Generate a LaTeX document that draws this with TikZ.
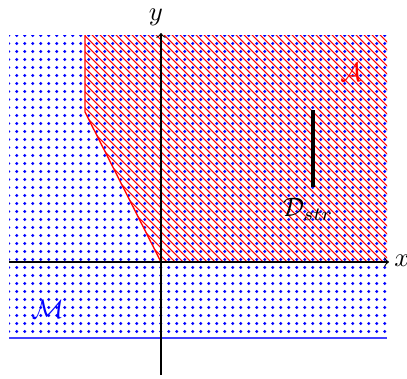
\documentclass[tikz,border=0pt]{standalone}
\begin{document}
\begin{tikzpicture}[x=0.375pt,y=-0.375pt,
  axis/.style={->,black,line width=0.4pt},
  redge/.style={red,line width=0.5pt},
  dotm/.style={fill=blue},
  hatch/.style={red,line width=0.4pt}]
\useasboundingbox (0,0) rectangle (407,378);
% region M (dots)
\begin{scope}
\clip (9,35) rectangle (387,338);
\foreach \i in {0,...,47}{\foreach \j in {0,...,38}{
  \fill[dotm] (8.7+8*\i,35.5+8*\j) circle[radius=1.6];}}
\end{scope}
\draw[blue!75,line width=0.6pt] (9,338) -- (387,338);
% region A (hatch)
\begin{scope}
\clip (85,35) -- (85,112) -- (161,262) -- (387,262) -- (387,35) -- cycle;
\foreach \k in {-11,...,47}{
  \draw[hatch] (-22.8+8*\k,0) -- (377.2+8*\k,400);}
\end{scope}
\draw[redge] (85,35) -- (85,112) -- (161,262) -- (387,262);
% axes
\coordinate (xs) at (9,262);
\coordinate (xe) at (389,262);
\coordinate (ys) at (161,375);
\coordinate (ye) at (161,33);
\draw[axis] (xs) -- (xe);
\draw[axis] (ys) -- (ye);
\node (xl) at (402,261) {$x$};
\node (yl) at (156,17) {$y$};
% segment
\coordinate (s1) at (313,110);
\coordinate (s2) at (313,187);
\draw[line width=1.5pt] (s1) -- (s2);
\node (D) at (308,209) {$\mathcal{D}_{str}$};
\node[red] (A) at (351,72) {$\mathcal{A}$};
\node[blue] (M) at (48,309) {$\mathcal{M}$};
\end{tikzpicture}
\end{document}
